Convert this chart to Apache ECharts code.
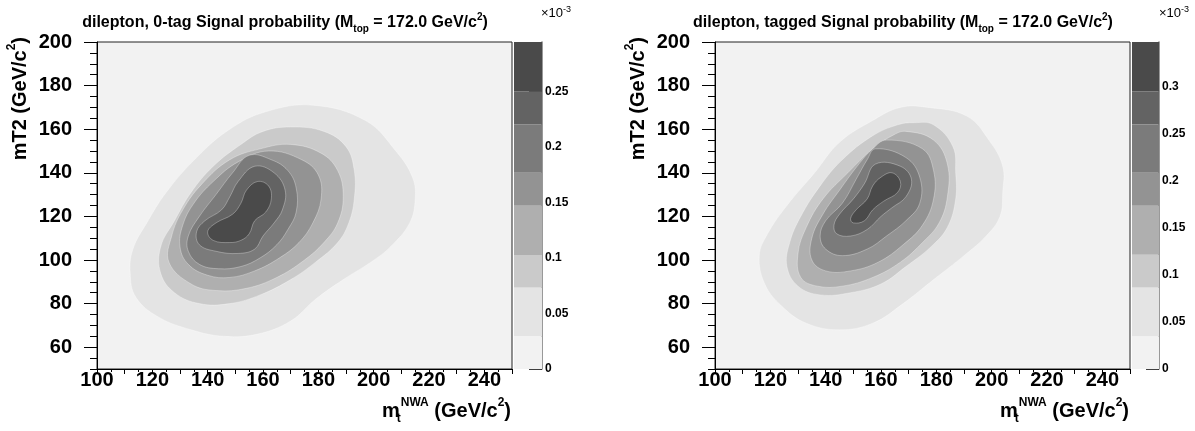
<!DOCTYPE html>
<html>
<head>
<meta charset="utf-8">
<script src="https://cdn.jsdelivr.net/npm/echarts@6.0.0/dist/echarts.min.js"></script>
<style>
  html, body { margin: 0; padding: 0; background: #fff; }
  #chart { width: 1195px; height: 431px; }
</style>
</head>
<body>
<div id="chart"></div>
<script>
  // axis labels
  const xLabels = [100, 120, 140, 160, 180, 200, 220, 240];
  const yLabels = [60, 80, 100, 120, 140, 160, 180, 200];

  // palette, one grey per band (lowest band = plot background)
  const bandColors = ['#f2f2f2', '#e4e4e4', '#cacaca', '#afafaf', '#939393', '#7b7b7b', '#636363', '#4a4a4a'];

  // band edges of the colour scale (x10^-3)
  const levels0tag = [0, 0.0294, 0.0734, 0.1028, 0.1471, 0.1768, 0.2203, 0.2502, 0.2946];
  const levelsTagged = [0, 0.0347, 0.0866, 0.1213, 0.1735, 0.2085, 0.2599, 0.2951, 0.3475];
  const zTicks0tag = [0, 0.05, 0.1, 0.15, 0.2, 0.25];
  const zTicksTagged = [0, 0.05, 0.1, 0.15, 0.2, 0.25, 0.3];

  // contour outlines, [mt, mT2], outermost first
  const contours0tag = [
    [[178,171],[197,164],[208,150],[214,138],[215,128],[213,117],[206,106],[199,99],[189,91],[179,82],[170,72],[158,66],[146,65],[134,68],[122,74],[114,83],[112,94],[113,105],[118,117],[125,131],[136,147],[148,160],[161,168]],
    [[170,161],[182,159],[190,152],[193,141],[193,128],[191,117],[187,108],[179,99],[170,91],[159,84],[148,80],[137,80],[128,85],[123,94],[123,106],[128,118],[134,131],[142,143],[152,153],[160,159]],
    [[170,153],[181,149],[187,141],[189,129],[187,117],[182,108],[175,100],[165,92],[154,87],[143,86],[134,89],[126,99],[127,111],[131,123],[138,135],[148,146],[159,151]],
    [[162,150],[174,146],[180,139],[181,128],[178,117],[173,108],[166,101],[157,95],[148,92],[140,93],[133,98],[130,106],[131,116],[135,126],[142,136],[151,145]],
    [[155,148],[163,146],[169,141],[172,133],[172,122],[169,114],[165,107],[159,101],[152,97],[144,96],[137,98],[133,104],[133,111],[137,120],[143,130],[149,140]],
    [[157,143],[164,140],[168,132],[167,123],[164,117],[160,111],[157,105],[151,103],[143,104],[137,107],[136,113],[139,118],[145,123],[148,129],[151,136]],
    [[158,136],[162,134],[163,128],[161,122],[157,118],[155,112],[152,109],[148,108],[142,109],[140,113],[143,117],[149,121],[152,126],[154,132]]
  ];
  const contoursTagged = [
    [[177,170],[191,166],[199,155],[204,143],[204,131],[203,120],[198,111],[190,102],[179,91],[168,80],[157,71],[145,68],[133,71],[124,79],[118,89],[116,102],[119,112],[126,125],[136,140],[145,154],[157,164],[167,170]],
    [[172,163],[179,162],[186,152],[187,140],[187,128],[184,115],[178,106],[169,97],[160,89],[149,85],[138,84],[130,88],[126,97],[127,108],[131,120],[138,134],[146,146],[157,157],[166,162]],
    [[169,159],[179,155],[184,144],[184,129],[181,117],[175,108],[167,99],[157,92],[146,88],[137,88],[131,92],[130,103],[133,115],[139,128],[148,140],[157,151],[164,157]],
    [[162,155],[175,151],[179,141],[179,128],[175,116],[168,107],[159,99],[149,95],[140,95],[135,100],[135,110],[139,121],[145,132],[152,144],[157,151]],
    [[158,151],[169,147],[174,138],[174,126],[169,118],[162,111],[155,105],[146,102],[140,105],[138,111],[140,118],[146,126],[151,137],[155,146]],
    [[158,144],[167,143],[171,137],[169,129],[164,124],[160,120],[155,114],[149,111],[144,112],[143,116],[145,121],[150,128],[154,135]],
    [[160,138],[164,140],[167,136],[166,131],[161,127],[157,123],[154,118],[150,117],[149,119],[151,123],[155,128],[157,134]]
  ];

  const FONT = 'Liberation Sans, Arial, Helvetica, sans-serif';
  const myChart = echarts.init(document.getElementById('chart'));

  const plotXAxis = (gridIndex) => ({
    type: 'value', gridIndex, min: 100, max: 250, interval: 10,
    axisLine: { show: true, lineStyle: { color: '#000', width: 1 } },
    axisTick: { show: true, length: 5, lineStyle: { color: '#000' } },
    minorTick: { show: true, splitNumber: 2, length: 3, lineStyle: { color: '#000' } },
    axisLabel: { customValues: xLabels, margin: 1, color: '#000', fontSize: 20, fontWeight: 'bold', fontFamily: FONT },
    splitLine: { show: false }
  });
  const plotYAxis = (gridIndex) => ({
    type: 'value', gridIndex, position: 'left', min: 50, max: 200, interval: 5,
    axisLine: { show: true, lineStyle: { color: '#000', width: 1 } },
    axisTick: { show: true, length: 7, lineStyle: { color: '#000' } },
    axisLabel: { customValues: yLabels, margin: 25, color: '#000', fontSize: 20, fontWeight: 'bold', fontFamily: FONT },
    splitLine: { show: false }
  });
  const majorYAxis = (gridIndex) => ({
    type: 'value', gridIndex, position: 'left', offset: 0, min: 50, max: 200,
    axisLine: { show: false },
    axisTick: { show: true, customValues: yLabels, length: 13, lineStyle: { color: '#000' } },
    axisLabel: { show: false },
    splitLine: { show: false }
  });
  const barXAxis = (gridIndex) => ({
    type: 'category', gridIndex, data: ['z'], show: false
  });
  const barYAxis = (gridIndex, ticks, top) => ({
    type: 'value', gridIndex, position: 'right', min: 0, max: top,
    axisLine: { show: true, lineStyle: { color: '#777', width: 1.5 } },
    axisTick: { show: true, inside: true, customValues: ticks, length: 13, lineStyle: { color: '#000', width: 1.5 } },
    axisLabel: { customValues: ticks, margin: 3, color: '#000', fontSize: 12, fontWeight: 'bold', fontFamily: FONT,
      formatter: v => String(+v.toFixed(2)) },
    splitLine: { show: false }
  });

  const contourSeries = (contours, xAxisIndex, yAxisIndex) => ({
    type: 'custom', xAxisIndex, yAxisIndex, clip: true, silent: true,
    encode: { x: 0, y: 1 },
    data: contours.map((pts, i) => [pts[0][0], pts[0][1], i]),
    renderItem: (params, api) => {
      const i = api.value(2);
      const points = contours[i].map(p => api.coord(p));
      return {
        type: 'polygon',
        shape: { points, smooth: 0.4 },
        style: { fill: bandColors[i + 1], stroke: 'rgba(255,255,255,0.3)', lineWidth: 1 }
      };
    }
  });
  const colorBarSeries = (levels, xAxisIndex, yAxisIndex, stack) =>
    levels.slice(1).map((hi, k) => ({
      type: 'bar', xAxisIndex, yAxisIndex, stack, silent: true,
      barWidth: '100%', barCategoryGap: '0%',
      itemStyle: { color: bandColors[k] },
      data: [+(hi - levels[k]).toFixed(5)]
    }));

  const richBase = {
    b: { fontSize: 16, fontWeight: 'bold', fontFamily: FONT, lineHeight: 22, fill: '#000' },
    sub: { fontSize: 10, fontWeight: 'bold', fontFamily: FONT, lineHeight: 8, verticalAlign: 'bottom', fill: '#000' },
    sup: { fontSize: 10, fontWeight: 'bold', fontFamily: FONT, lineHeight: 6, verticalAlign: 'top', fill: '#000' }
  };
  const richAxis = {
    m: { fontSize: 20, fontWeight: 'bold', fontFamily: FONT, lineHeight: 28, fill: '#000' },
    t: { fontSize: 12, fontWeight: 'bold', fontFamily: FONT, lineHeight: 10, verticalAlign: 'bottom', width: 1, fill: '#000' },
    sup: { fontSize: 12, fontWeight: 'bold', fontFamily: FONT, lineHeight: 6, verticalAlign: 'top', fill: '#000' }
  };
  const richExp = {
    a: { fontSize: 13, fontFamily: FONT, lineHeight: 16, fill: '#000' },
    s: { fontSize: 9, fontFamily: FONT, lineHeight: 6, verticalAlign: 'top', fill: '#000' }
  };

  const titleText = (tag) => ({
    type: 'text', x: 0, y: 0,
    style: {
      text: '{b|dilepton, ' + tag + ' Signal probability (M}{sub|top}{b| = 172.0 GeV/c}{sup|2}{b|)}',
      rich: richBase, textAlign: 'center', textVerticalAlign: 'middle'
    }
  });
  const yName = {
    type: 'text', rotation: Math.PI / 2,
    style: { text: '{m|mT2 (GeV/c}{sup|2}{m|)}', rich: richAxis, textAlign: 'right', textVerticalAlign: 'middle' }
  };
  const xName = {
    type: 'text',
    style: { text: '{m|m}{t|t}{sup|NWA}{m| (GeV/c}{sup|2}{m|)}', rich: richAxis, textAlign: 'right', textVerticalAlign: 'middle' }
  };
  const expText = {
    type: 'text',
    style: { text: '{a|×10}{s|-3}', rich: richExp, textAlign: 'left', textVerticalAlign: 'middle' }
  };

  const option = {
    animation: false,
    backgroundColor: '#fff',
    grid: [
      { left: 97, top: 42, width: 415, height: 327, show: true, backgroundColor: bandColors[0], borderColor: '#222', borderWidth: 1 },
      { left: 514, top: 42, width: 28, height: 327 },
      { left: 715, top: 42, width: 415, height: 327, show: true, backgroundColor: bandColors[0], borderColor: '#222', borderWidth: 1 },
      { left: 1132, top: 42, width: 27, height: 327 }
    ],
    xAxis: [plotXAxis(0), barXAxis(1), plotXAxis(2), barXAxis(3)],
    yAxis: [
      plotYAxis(0), majorYAxis(0),
      barYAxis(1, zTicks0tag, levels0tag[levels0tag.length - 1]),
      plotYAxis(2), majorYAxis(2),
      barYAxis(3, zTicksTagged, levelsTagged[levelsTagged.length - 1])
    ],
    series: [
      contourSeries(contours0tag, 0, 0),
      ...colorBarSeries(levels0tag, 1, 2, 'z0'),
      contourSeries(contoursTagged, 2, 3),
      ...colorBarSeries(levelsTagged, 3, 5, 'z1')
    ],
    graphic: [
      Object.assign(titleText('0-tag'), { x: 285, y: 23 }),
      Object.assign(titleText('tagged'), { x: 903, y: 23 }),
      Object.assign({}, yName, { x: 20, y: 37 }),
      Object.assign({}, yName, { x: 638, y: 37 }),
      Object.assign({}, xName, { x: 511, y: 411 }),
      Object.assign({}, xName, { x: 1129, y: 411 }),
      Object.assign({}, expText, { x: 541, y: 13 }),
      Object.assign({}, expText, { x: 1159, y: 13 })
    ]
  };
  option && myChart.setOption(option);
</script>
</body>
</html>
